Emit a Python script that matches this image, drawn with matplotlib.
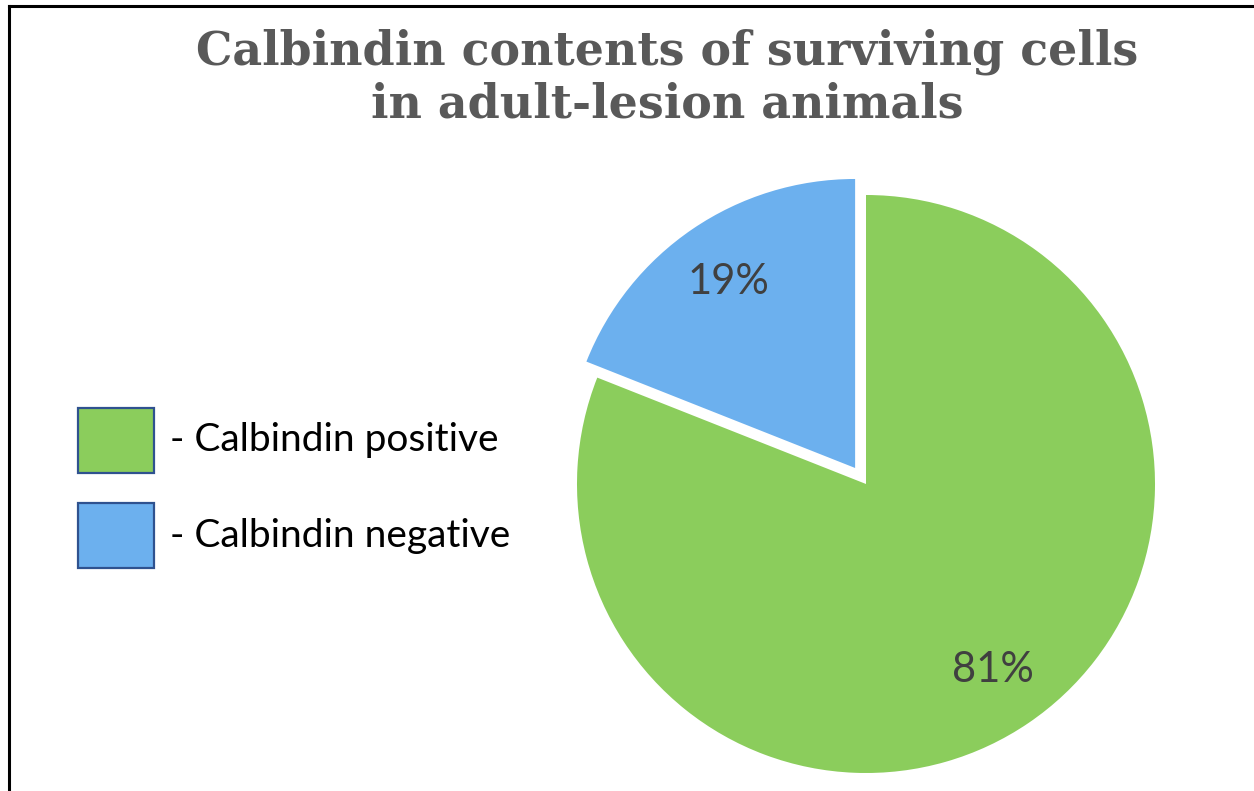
import matplotlib.pyplot as plt
from matplotlib.patches import Rectangle
from matplotlib.lines import Line2D

# data
labels = ['Calbindin positive', 'Calbindin negative']
values = [81, 19]
colors = ['#8BCD5C', '#6CB0EE']
title = 'Calbindin contents of surviving cells\nin adult-lesion animals'

W, H = 1254, 791
fig = plt.figure(figsize=(W / 100, H / 100), dpi=100)
fig.patch.set_facecolor('white')

# frame (only left and top visible, runs off the picture)
fig.add_artist(Line2D([9 / W, 9 / W], [0, 1 - 6 / H], color='black', lw=2.2))
fig.add_artist(Line2D([9 / W, 1], [1 - 6 / H, 1 - 6 / H], color='black', lw=2.2))

fig.text(667 / W, 1 - 78 / H, title, ha='center', va='center',
         fontsize=33, fontweight='bold', family='DejaVu Serif',
         color='#595959', linespacing=1.2)

# pie axes, center at (866, 484) px, radius 289 px
r = 289
half = 300
cx, cy = 866, H - 484
ax = fig.add_axes([(cx - half) / W, (cy - half) / H, 2 * half / W, 2 * half / H])

wedges, texts, autotexts = ax.pie(
    values, colors=colors, startangle=90, counterclock=False,
    explode=[0, 0.067], autopct='%d%%', pctdistance=0.78,
    radius=1, wedgeprops=dict(linewidth=0),
    textprops=dict(fontsize=30, color='#404040', family='Lato'))
for w in wedges:
    w.set_clip_on(False)
ax.set_xlim(-half / r, half / r)
ax.set_ylim(-half / r, half / r)
ax.set_aspect('equal')
ax.axis('off')

# legend
box_x, box_w, box_h = 78, 76, 65
box_tops = [408, 503]
for lab, col, top in zip(labels, colors, box_tops):
    fig.add_artist(Rectangle((box_x / W, 1 - (top + box_h) / H), box_w / W, box_h / H,
                             facecolor=col, edgecolor='#2F528F', lw=1.6,
                             transform=fig.transFigure))
    fig.text(170 / W, 1 - (top + box_h / 2) / H, '- ' + lab, ha='left', va='center',
             fontsize=28, family='Lato', color='black')

fig.savefig('out.png', dpi=100)
